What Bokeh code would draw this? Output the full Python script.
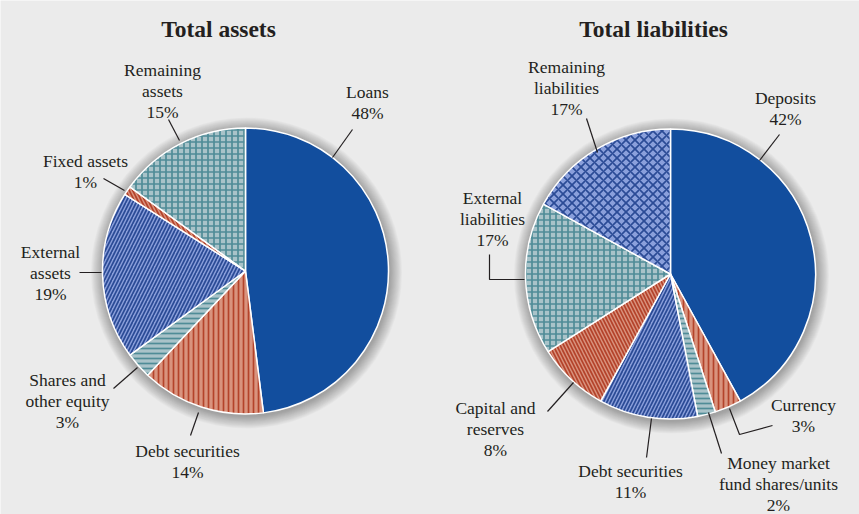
import numpy as np
from bokeh.plotting import figure
from bokeh.models import Range1d, ColumnDataSource
from bokeh.core.properties import value
from bokeh.embed import file_html
from bokeh.resources import INLINE

# ---------------- data ----------------
asset_names = ["Loans", "Debt securities", "Shares and\nother equity", "External\nassets",
               "Fixed assets", "Remaining\nassets"]
asset_values = [48, 14, 3, 19, 1, 15]

liab_names = ["Deposits", "Currency", "Money market\nfund shares/units", "Debt securities",
              "Capital and\nreserves", "External\nliabilities", "Remaining\nliabilities"]
liab_values = [42, 3, 2, 11, 8, 17, 17]

titles = ["Total assets", "Total liabilities"]

# ---------------- styles ----------------
BG = "#ebebeb"
FONT = "Liberation Serif"
STYLE = {
    "solid": dict(fill="#124e9e", hatch=" ", hcol="#124e9e", sc=5),
    "vert": dict(fill="#d9937e", hatch="|", hcol="#b4432b", sc=5),
    "rdiag_red": dict(fill="#d9937e", hatch="\\", hcol="#b4432b", sc=7),
    "horiz": dict(fill="#a9c3c9", hatch="-", hcol="#4f8c97", sc=5),
    "diag_blue": dict(fill="#8a9fdb", hatch="/", hcol="#2b4b96", sc=7),
    "grid": dict(fill="#a9c3c9", hatch="+", hcol="#4f8c97", sc=6),
    "xgrid": dict(fill="#8a9fdb", hatch="x", hcol="#2b4b96", sc=9),
}
asset_styles = ["solid", "vert", "horiz", "diag_blue", "rdiag_red", "grid"]
liab_styles = ["solid", "vert", "horiz", "diag_blue", "rdiag_red", "grid", "xgrid"]

# layout (pixel coordinates of the page)
pies = [dict(cx=245, cy=270.5, r=143), dict(cx=670, cy=273.5, r=145)]
title_pos = [(218, 28), (653, 28)]
asset_label_pos = [(367, 91), (187, 450), (67, 379), (50, 251), (85, 160), (162, 69)]
liab_label_pos = [(785, 97), (803, 404), (778, 462), (630, 470), (495, 407), (492, 197), (566, 66)]
asset_leaders = [[(352, 129), (332, 157)], [(190, 435), (198, 412)], [(113, 388), (137, 367)],
                 [(79, 272), (101, 272)], [(103, 178), (124, 190)], [(168, 119), (179, 140)]]
liab_leaders = [[(779, 134), (759, 160)], [(772, 425), (739, 434), (729, 408)],
                [(721, 453), (708, 412)], [(646, 457), (651, 418)], [(547, 411), (573, 382)],
                [(489, 254), (489, 279), (524, 279)], [(586, 118), (597, 152)]]
LINE_H = 21

W, H = 859, 514
p = figure(width=W, height=H, output_backend="svg", toolbar_location=None,
           x_range=Range1d(0, W), y_range=Range1d(0, H),
           min_border=0, background_fill_color=BG, border_fill_color=BG)
p.axis.visible = False
p.grid.visible = False
p.outline_line_color = None


def Y(yp):
    return H - yp


for pie, names, vals, styles, lpos, leaders in [
        (pies[0], asset_names, asset_values, asset_styles, asset_label_pos, asset_leaders),
        (pies[1], liab_names, liab_values, liab_styles, liab_label_pos, liab_leaders)]:
    cx, cy, r = pie["cx"], Y(pie["cy"]), pie["r"]
    # soft shadow
    for k in range(1, 15):
        p.circle(x=cx + 1, y=cy - 2, radius=r + k * 0.9, fill_color="black",
                 fill_alpha=0.022, line_color=None)
    v = np.array(vals, dtype=float)
    frac = v / v.sum()
    c1 = np.cumsum(frac)
    c0 = c1 - frac
    start = np.deg2rad(90 - 360 * c1)
    end = np.deg2rad(90 - 360 * c0)
    src = ColumnDataSource(dict(
        start=start, end=end,
        fill=[STYLE[s]["fill"] for s in styles],
        hatch=[STYLE[s]["hatch"] for s in styles],
        hcol=[STYLE[s]["hcol"] for s in styles],
        hsc=[STYLE[s]["sc"] for s in styles],
    ))
    p.wedge(x=cx, y=cy, radius=r, start_angle="start", end_angle="end",
            direction="anticlock", source=src, fill_color="fill",
            hatch_pattern="hatch", hatch_color="hcol", hatch_scale="hsc",
            hatch_weight=1.7, line_color="white", line_width=1.5)
    # labels
    tx, ty, tt = [], [], []
    for name, val, (lx, ly) in zip(names, vals, lpos):
        lines = name.split("\n") + [f"{val}%"]
        for j, ln in enumerate(lines):
            tx.append(lx)
            ty.append(Y(ly + j * LINE_H))
            tt.append(ln)
    p.text(x=tx, y=ty, text=tt, text_font=value(FONT), text_font_size="17.5px",
           text_align="center", text_baseline="middle", text_color="#231f20")
    for pts in leaders:
        p.line(x=[q[0] for q in pts], y=[Y(q[1]) for q in pts], line_color="#231f20",
               line_width=1.2)

p.text(x=[t[0] for t in title_pos], y=[Y(t[1]) for t in title_pos], text=titles,
       text_font=value(FONT), text_font_style="bold", text_font_size="23.5px",
       text_align="center", text_baseline="middle", text_color="#231f20")

html = file_html(p, INLINE)
html = html.replace("<body>", '<body style="background:#ebebeb">', 1)
open("out.html", "w").write(html)
